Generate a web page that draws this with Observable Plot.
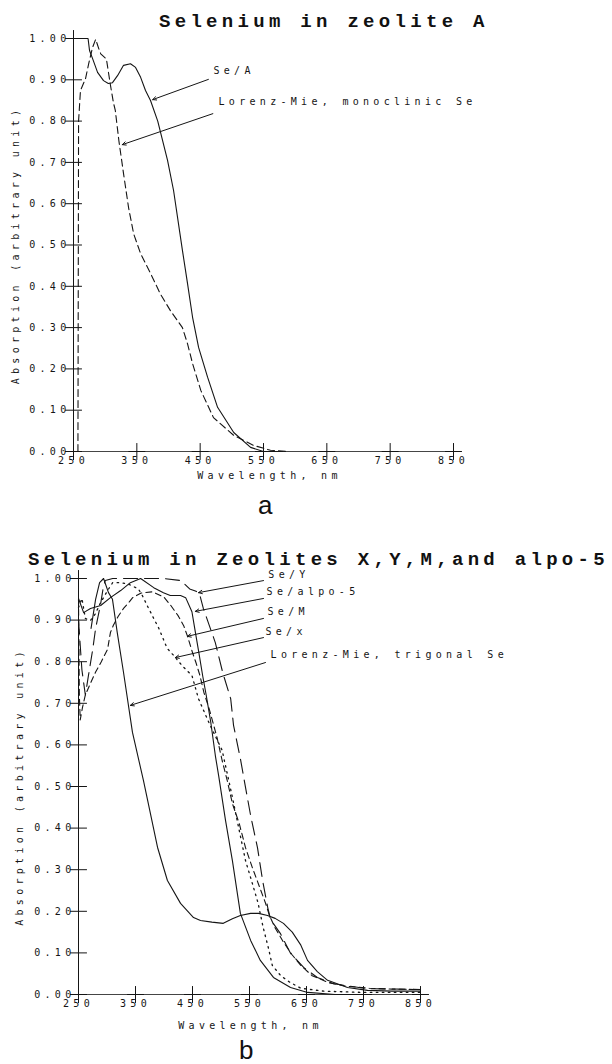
<!DOCTYPE html>
<html><head><meta charset="utf-8">
<script src="https://cdn.jsdelivr.net/npm/d3@7"></script>
<script src="https://cdn.jsdelivr.net/npm/@observablehq/plot@0.6"></script>
<style>
body{margin:0;background:#fff;}
#wrap{position:relative;width:612px;height:1064px;overflow:hidden;background:#fff;}
.title{position:absolute;font-family:"Liberation Mono",monospace;font-weight:bold;font-size:19px;letter-spacing:4.3px;white-space:pre;color:#111;line-height:19px;}
.panel{position:absolute;font-family:"Liberation Sans",Arial,sans-serif;font-size:26px;color:#111;line-height:26px;}
.chart{position:absolute;left:0;}
</style></head><body>
<div id="wrap">
  <div class="title" style="left:159px;top:13px;">Selenium in zeolite A</div>
  <div class="chart" id="ca" style="top:0px;"></div>
  <div class="panel" style="left:258px;top:492px;">a</div>
  <div class="chart" id="cb" style="top:530px;"></div>
  <div class="title" style="left:28px;top:551px;">Selenium in Zeolites X,Y,M,and alpo-5</div>
  <div class="panel" style="left:239px;top:1037px;">b</div>
</div>
<script>
// ---- axis ticks ----
const xTicks = [250, 350, 450, 550, 650, 750, 850];
const xTickLabels = ["250", "350", "450", "550", "650", "750", "850"];
const yTicks = [0, 0.1, 0.2, 0.3, 0.4, 0.5, 0.6, 0.7, 0.8, 0.9, 1.0];
const yTickLabels = ["0.00", "0.10", "0.20", "0.30", "0.40", "0.50", "0.60", "0.70", "0.80", "0.90", "1.00"];

// ---- chart a: Selenium in zeolite A ----
const seA_nm  = [255, 273, 275.3, 280, 288, 297.4, 305, 311.6, 319.5, 329, 340, 348, 356, 363.7, 371.6, 383, 398.5, 408, 422, 430, 438, 447.5, 461.7, 477.5, 503, 529.6, 550, 580];
const seA_abs = [1.0, 1.0, 0.971, 0.952, 0.918, 0.898, 0.891, 0.893, 0.91, 0.935, 0.939, 0.93, 0.906, 0.874, 0.85, 0.80, 0.705, 0.632, 0.487, 0.407, 0.325, 0.252, 0.18, 0.107, 0.046, 0.01, 0.0, 0.0];
const lmMono_nm  = [257, 258, 261, 269, 274, 280, 285, 290, 293, 302, 308, 313, 316, 321.6, 329, 337, 345, 356, 372, 387, 403, 422, 430, 438, 451, 471, 503, 534, 561, 588];
const lmMono_abs = [0.0, 0.80, 0.874, 0.903, 0.939, 0.978, 0.998, 0.975, 0.963, 0.95, 0.89, 0.845, 0.826, 0.753, 0.673, 0.59, 0.527, 0.479, 0.43, 0.382, 0.341, 0.30, 0.261, 0.213, 0.148, 0.082, 0.039, 0.015, 0.003, 0.0];
const annA_text = ["Se/A", "Lorenz-Mie, monoclinic Se"];
const annA_x = [471, 479];
const annA_y = [0.922, 0.846];
const arrA_x1 = [463, 470];
const arrA_y1 = [0.901, 0.818];
const arrA_x2 = [375, 327];
const arrA_y2 = [0.852, 0.743];

// ---- chart b: Selenium in Zeolites X, Y, M and alpo-5 ----
const seY_nm  = [250, 256, 262, 267.5, 275, 280, 289, 294, 297, 310, 330, 360, 400, 430, 445, 455, 462, 469, 490, 503, 517, 522, 534, 543, 552, 564, 573, 582, 587, 604, 622, 645, 669, 697, 757, 815, 850];
const seY_abs = [0.90, 0.78, 0.72, 0.767, 0.83, 0.88, 0.94, 0.983, 0.995, 1.0, 1.0, 1.0, 1.0, 0.995, 0.975, 0.97, 0.965, 0.928, 0.846, 0.774, 0.711, 0.647, 0.567, 0.498, 0.43, 0.353, 0.274, 0.209, 0.18, 0.147, 0.099, 0.065, 0.041, 0.026, 0.014, 0.013, 0.012];
const seAlpo_nm  = [250, 259, 271, 289, 306, 324, 341, 359, 382, 399, 411, 429, 438, 449, 455, 461, 468, 474, 482, 490, 496, 508, 520, 529, 534, 552, 569, 592, 622, 652, 700, 760];
const seAlpo_abs = [0.952, 0.918, 0.928, 0.935, 0.954, 0.971, 0.99, 1.0, 0.978, 0.966, 0.959, 0.959, 0.954, 0.92, 0.871, 0.823, 0.765, 0.72, 0.655, 0.575, 0.525, 0.418, 0.322, 0.24, 0.195, 0.13, 0.082, 0.041, 0.017, 0.005, 0.0, 0.0];
const seM_nm  = [250, 251.5, 253, 257, 262, 270, 280, 290, 301, 306, 311, 320, 329, 338, 345, 360, 380, 400, 412, 425, 435, 441, 450, 456, 463, 470, 479, 484, 493, 502, 511, 520, 532, 543, 555, 568, 578, 585, 595, 610, 625, 640, 660, 690, 720, 760, 800, 850];
const seM_abs = [0.95, 0.72, 0.66, 0.69, 0.72, 0.745, 0.775, 0.80, 0.83, 0.87, 0.887, 0.91, 0.928, 0.942, 0.954, 0.965, 0.968, 0.955, 0.935, 0.91, 0.885, 0.862, 0.822, 0.798, 0.767, 0.726, 0.688, 0.663, 0.618, 0.5625, 0.514, 0.459, 0.411, 0.353, 0.305, 0.257, 0.22, 0.19, 0.16, 0.125, 0.095, 0.07, 0.045, 0.028, 0.02, 0.015, 0.013, 0.012];
const seX_nm  = [250, 256, 262, 271, 280, 288, 301, 310, 325, 340, 355, 362, 370.5, 382, 391, 405.6, 417, 432, 449, 460.5, 480, 502, 511, 520, 531, 543, 555, 565, 574, 583, 590, 605, 620, 640, 680, 750, 850];
const seX_abs = [0.93, 0.952, 0.904, 0.899, 0.916, 0.94, 0.971, 0.99, 0.99, 0.985, 0.975, 0.959, 0.935, 0.904, 0.88, 0.832, 0.815, 0.79, 0.767, 0.711, 0.65, 0.587, 0.531, 0.474, 0.401, 0.322, 0.267, 0.22, 0.161, 0.113, 0.07, 0.045, 0.03, 0.015, 0.008, 0.005, 0.005];
const lmTrig_nm  = [272, 280, 287, 294, 302.6, 309.6, 318, 329, 344.7, 364, 388.6, 406, 429, 451.8, 464, 484, 504, 520, 534, 551.8, 566, 581.6, 595, 609.6, 625, 639.5, 651.8, 669, 687, 722, 757, 800, 850];
const lmTrig_abs = [0.88, 0.95, 0.99, 1.0, 0.966, 0.95, 0.87, 0.774, 0.63, 0.514, 0.354, 0.274, 0.219, 0.185, 0.178, 0.174, 0.171, 0.182, 0.19, 0.195, 0.195, 0.19, 0.183, 0.171, 0.15, 0.12, 0.082, 0.055, 0.034, 0.017, 0.01, 0.008, 0.008];
const annB_text = ["Se/Y", "Se/alpo-5", "Se/M", "Se/x", "Lorenz-Mie, trigonal Se"];
const annB_x = [583, 580, 581.6, 578, 587];
const annB_y = [1.008, 0.969, 0.921, 0.871, 0.816];
const arrB_x1 = [574.6, 574.6, 574.6, 574.6, 578];
const arrB_y1 = [0.995, 0.952, 0.904, 0.858, 0.798];
const arrB_x2 = [460.5, 455, 441, 420, 341];
const arrB_y2 = [0.966, 0.921, 0.861, 0.81, 0.695];

const ink = "#151515";
const rows = (xs, ys) => xs.map((x, i) => ({x, y: ys[i]}));
const arrows = (x1, y1, x2, y2) => x1.map((_, i) => ({x1: x1[i], y1: y1[i], x2: x2[i], y2: y2[i]}));
const notes = (t, xs, ys) => t.map((s, i) => ({text: s, x: xs[i], y: ys[i]}));

function frameMarks(xlabelDx, xlabelDy, ylabelDx) {
  return [
    Plot.ruleX([250], {stroke: ink, strokeWidth: 1}),
    Plot.ruleY([0], {stroke: ink, strokeWidth: 0.8}),
    Plot.dot(yTicks, {x: 250, y: d => d, symbol: "plus", r: 5.5, stroke: ink, strokeWidth: 1}),
    Plot.dot(xTicks, {x: d => d, y: 0, symbol: "plus", r: 5.5, stroke: ink, strokeWidth: 1}),
    Plot.axisX(xTicks, {tickSize: 0, tickPadding: 5, tickFormat: d => xTickLabels[xTicks.indexOf(d)], label: null}),
    Plot.axisY(yTicks, {tickSize: 0, tickPadding: 3, tickFormat: d => yTickLabels[yTicks.indexOf(d)], label: null}),
    Plot.text(["Wavelength, nm"], {frameAnchor: "bottom", textAnchor: "middle", lineAnchor: "middle", dx: xlabelDx, dy: xlabelDy, text: d => d, ariaLabel: "xtitle"}),
    Plot.text(["Absorption (arbitrary unit)"], {frameAnchor: "left", textAnchor: "middle", lineAnchor: "middle", dx: ylabelDx, rotate: -90, text: d => d, ariaLabel: "ytitle"})
  ];
}

const baseStyle = {fontFamily: "'DejaVu Sans Mono', monospace", fontSize: "10px", letterSpacing: "4.3px", color: ink, background: "transparent", overflow: "visible"};

function tweak(svg) {
  d3.select(svg).selectAll('g[aria-label="note"] text').style("letter-spacing", "4.8px");
  d3.select(svg).selectAll('g[aria-label="xtitle"] text').style("letter-spacing", "4.9px");
  d3.select(svg).selectAll('g[aria-label="ytitle"] text').style("letter-spacing", "4.4px");
  return svg;
}

const plotA = Plot.plot({
  width: 612, height: 500,
  marginLeft: 73, marginRight: 159, marginTop: 38, marginBottom: 49,
  x: {domain: [250, 850]}, y: {domain: [0, 1]},
  style: baseStyle,
  marks: [
    ...frameMarks(6, 24, -58),
    Plot.line(rows(seA_nm, seA_abs), {x: "x", y: "y", stroke: ink, strokeWidth: 1.1}),
    Plot.line(rows(lmMono_nm, lmMono_abs), {x: "x", y: "y", stroke: ink, strokeWidth: 1.1, strokeDasharray: "7,4"}),
    Plot.arrow(arrows(arrA_x1, arrA_y1, arrA_x2, arrA_y2), {x1: "x1", y1: "y1", x2: "x2", y2: "y2", stroke: ink, strokeWidth: 1, headLength: 6, headAngle: 50}),
    Plot.text(notes(annA_text, annA_x, annA_y), {x: "x", y: "y", text: "text", textAnchor: "start", fontSize: 10, ariaLabel: "note"})
  ]
});
document.getElementById("ca").appendChild(tweak(plotA));

const plotB = Plot.plot({
  width: 612, height: 530,
  marginLeft: 78, marginRight: 192, marginTop: 48, marginBottom: 66,
  x: {domain: [250, 850]}, y: {domain: [0, 1]},
  style: baseStyle,
  marks: [
    ...frameMarks(1, 31, -59),
    Plot.line(rows(lmTrig_nm, lmTrig_abs), {x: "x", y: "y", stroke: ink, strokeWidth: 1.1}),
    Plot.line(rows(seAlpo_nm, seAlpo_abs), {x: "x", y: "y", stroke: ink, strokeWidth: 1.1}),
    Plot.line(rows(seY_nm, seY_abs), {x: "x", y: "y", stroke: ink, strokeWidth: 1.1, strokeDasharray: "14,7"}),
    Plot.line(rows(seM_nm, seM_abs), {x: "x", y: "y", stroke: ink, strokeWidth: 1.1, strokeDasharray: "6,4"}),
    Plot.line(rows(seX_nm, seX_abs), {x: "x", y: "y", stroke: ink, strokeWidth: 1.3, strokeDasharray: "1.5,4.5"}),
    Plot.arrow(arrows(arrB_x1, arrB_y1, arrB_x2, arrB_y2), {x1: "x1", y1: "y1", x2: "x2", y2: "y2", stroke: ink, strokeWidth: 1, headLength: 6, headAngle: 50}),
    Plot.text(notes(annB_text, annB_x, annB_y), {x: "x", y: "y", text: "text", textAnchor: "start", fontSize: 10, ariaLabel: "note"})
  ]
});
document.getElementById("cb").appendChild(tweak(plotB));
</script>
</body></html>
